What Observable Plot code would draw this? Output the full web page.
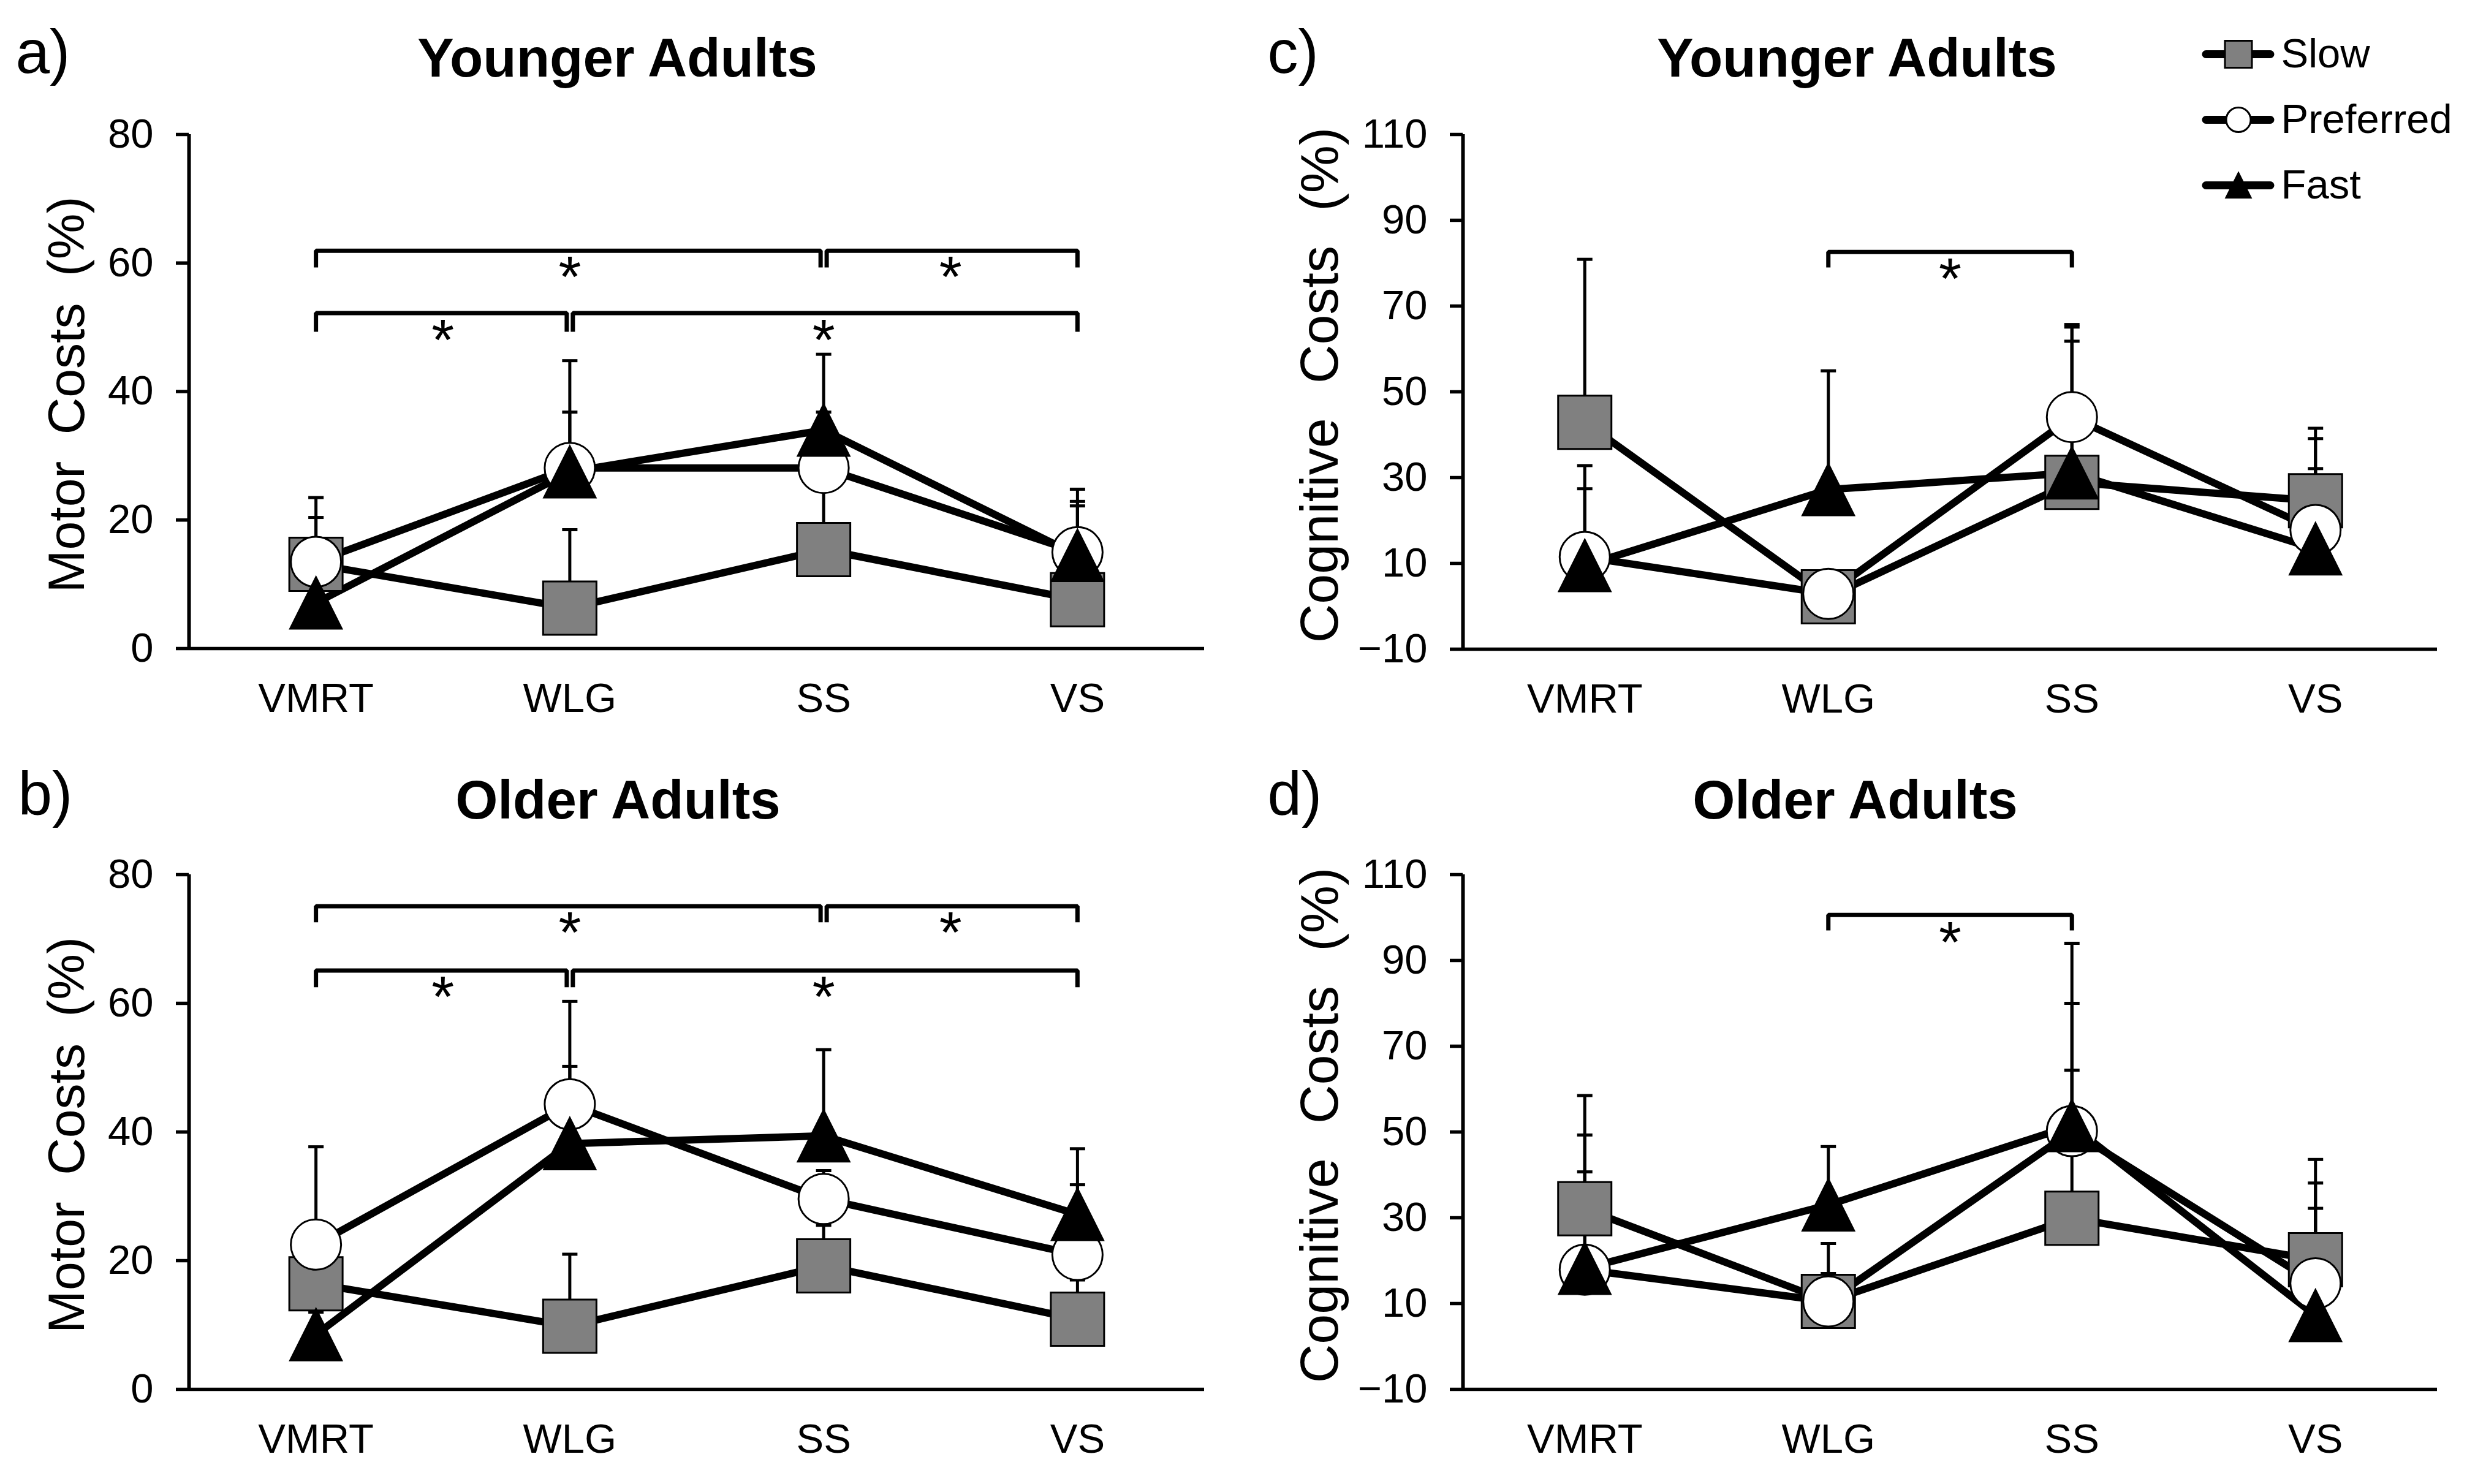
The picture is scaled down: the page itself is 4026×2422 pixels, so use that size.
<!DOCTYPE html>
<html><head><meta charset="utf-8">
<script src="https://cdn.jsdelivr.net/npm/d3@7"></script>
<script src="https://cdn.jsdelivr.net/npm/@observablehq/plot@0.6"></script>
<style>
html,body{margin:0;padding:0;background:#fff;}
#page{position:relative;width:4026px;height:2422px;overflow:hidden;background:#fff;}
.panel{position:absolute;}
</style></head><body><div id="page"></div>
<script>
// ---------- data ----------
const categories = ["VMRT", "WLG", "SS", "VS"];
const speeds = ["Slow", "Preferred", "Fast"];

// a) Younger adults – motor costs (%): means and upper error-bar ends
const youngMotorSlow = [13.1, 6.3, 15.4, 7.6];
const youngMotorPreferred = [13.5, 28.1, 28.1, 15.0];
const youngMotorFast = [7.1, 27.5, 34.0, 14.5];
const youngMotorSlowTop = [20.4, 18.5, 25.0, 22.2];
const youngMotorPreferredTop = [23.5, 36.8, 36.8, 24.8];
const youngMotorFastTop = [12.0, 44.8, 45.8, 22.9];

// b) Older adults – motor costs (%)
const oldMotorSlow = [16.4, 9.8, 19.2, 10.9];
const oldMotorPreferred = [22.5, 44.3, 29.6, 20.9];
const oldMotorFast = [8.5, 38.2, 39.4, 27.2];
const oldMotorSlowTop = [20.0, 21.0, 25.5, 17.0];
const oldMotorPreferredTop = [37.7, 60.3, 34.0, 31.8];
const oldMotorFastTop = [12.0, 50.2, 52.8, 37.4];

// c) Younger adults – cognitive costs (%)
const youngCogSlow = [42.9, 2.2, 28.9, 24.6];
const youngCogPreferred = [11.5, 2.9, 44.1, 17.8];
const youngCogFast = [9.5, 27.2, 31.1, 13.4];
const youngCogSlowTop = [80.9, 6.0, 61.8, 39.1];
const youngCogPreferredTop = [32.8, 7.0, 65.7, 41.5];
const youngCogFastTop = [27.4, 54.9, 65.1, 32.1];

// d) Older adults – cognitive costs (%)
const oldCogSlow = [32.1, 10.5, 29.9, 20.2];
const oldCogPreferred = [17.9, 10.5, 50.2, 14.7];
const oldCogFast = [18.2, 33.0, 51.5, 7.2];
const oldCogSlowTop = [40.7, 24.0, 64.4, 32.2];
const oldCogPreferredTop = [49.3, 17.0, 80.0, 38.1];
const oldCogFastTop = [58.5, 46.6, 94.0, 43.6];

// y tick labels
const motorTicks = [0, 20, 40, 60, 80];
const cogTicks = [-10, 10, 30, 50, 70, 90, 110];

// significance brackets (value units)
const motorBracketsYoung = [
  {from: "VMRT", to: "SS", level: 61.9, end: 59.3, star: 58.4},
  {from: "SS", to: "VS", level: 61.9, end: 59.3, star: 58.4},
  {from: "VMRT", to: "WLG", level: 52.2, end: 49.3, star: 48.6},
  {from: "WLG", to: "VS", level: 52.2, end: 49.3, star: 48.6}
];
const motorBracketsOld = [
  {from: "VMRT", to: "SS", level: 75.1, end: 72.6, star: 71.6},
  {from: "SS", to: "VS", level: 75.1, end: 72.6, star: 71.6},
  {from: "VMRT", to: "WLG", level: 65.1, end: 62.5, star: 61.6},
  {from: "WLG", to: "VS", level: 65.1, end: 62.5, star: 61.6}
];
const cogBracketsYoung = [{from: "WLG", to: "SS", level: 82.6, end: 79.0, star: 77.3}];
const cogBracketsOld = [{from: "WLG", to: "SS", level: 100.6, end: 97.0, star: 95.1}];

// ---------- helpers ----------
const FONT = "'Liberation Sans', Arial, sans-serif";
const squareSym = {draw(ctx, size) { const t = Math.sqrt(size / Math.PI); ctx.rect(-t, -t, 2 * t, 2 * t); }};
const triSym = {draw(ctx, size) { const t = Math.sqrt(size / Math.PI); ctx.moveTo(0, -t); ctx.lineTo(t, t); ctx.lineTo(-t, t); ctx.closePath(); }};
const capSym = {draw(ctx, size) { const t = Math.sqrt(size / Math.PI); ctx.moveTo(-t, 0); ctx.lineTo(t, 0); }};
const style = {
  Slow: {symbol: squareSym, fill: "#808080", r: 43.5},
  Preferred: {symbol: "circle", fill: "white", r: 41},
  Fast: {symbol: triSym, fill: "black", r: 42}
};

function rows(means, tops, speed) {
  return categories.map((c, i) => ({category: c, xi: i, speed, value: means[i], top: tops[i]}));
}

function bracketParts(brackets) {
  const pts = [], stars = [];
  brackets.forEach((b, k) => {
    let x1 = categories.indexOf(b.from), x2 = categories.indexOf(b.to);
    if (brackets.some(o => o !== b && o.level === b.level && o.to === b.from)) x1 += 0.012;
    if (brackets.some(o => o !== b && o.level === b.level && o.from === b.to)) x2 -= 0.012;
    pts.push({k, x: x1, y: b.end}, {k, x: x1, y: b.level}, {k, x: x2, y: b.level}, {k, x: x2, y: b.end});
    stars.push({x: (categories.indexOf(b.from) + categories.indexOf(b.to)) / 2, y: b.star});
  });
  return {pts, stars};
}

function panel(cfg) {
  const data = [
    ...rows(cfg.slow, cfg.slowTop, "Slow"),
    ...rows(cfg.pref, cfg.prefTop, "Preferred"),
    ...rows(cfg.fast, cfg.fastTop, "Fast")
  ];
  const {pts, stars} = bracketParts(cfg.brackets);
  const L = cfg.layout;
  const plot = Plot.plot({
    width: L.width, height: L.height,
    marginLeft: L.ml, marginRight: L.mr, marginTop: L.mt, marginBottom: L.mb,
    style: {background: "transparent", fontFamily: FONT, color: "black", overflow: "visible"},
    x: {domain: [-0.5, 3.5]},
    y: {domain: [cfg.ticks[0], cfg.ticks[cfg.ticks.length - 1]]},
    marks: [
      Plot.axisY({ticks: cfg.ticks, tickSize: 21, tickPadding: 37, fontSize: 67, strokeWidth: 5.5, label: null}),
      Plot.axisX({ticks: [0, 1, 2, 3], tickFormat: i => categories[i], tickSize: 0, tickPadding: 56, fontSize: 67, label: null}),
      Plot.ruleX([-0.5], {stroke: "black", strokeWidth: 6}),
      Plot.ruleY([cfg.ticks[0]], {stroke: "black", strokeWidth: 5.5}),
      // error bars
      Plot.ruleX(data, {x: "xi", y1: "value", y2: "top", stroke: "black", strokeWidth: 5}),
      Plot.dot(data, {x: "xi", y: "top", symbol: capSym, r: 12.5, stroke: "black", strokeWidth: 5, fill: "none"}),
      // series lines
      ...speeds.map(s => Plot.line(data.filter(d => d.speed === s), {x: "xi", y: "value", stroke: "black", strokeWidth: 12, strokeLinejoin: "round"})),
      // markers
      ...speeds.map(s => Plot.dot(data.filter(d => d.speed === s), {x: "xi", y: "value", symbol: style[s].symbol, r: style[s].r, fill: style[s].fill, stroke: "black", strokeWidth: 3})),
      // brackets
      Plot.line(pts, {x: "x", y: "y", z: "k", stroke: "black", strokeWidth: 7, strokeLinejoin: "miter", strokeLinecap: "butt"}),
      Plot.text(stars, {x: "x", y: "y", text: () => "*", fontSize: 95, dy: 8, fill: "black"}),
      // title, panel letter, y label
      Plot.text([cfg.title], {frameAnchor: "top-left", dx: L.titleDx, dy: L.titleDy, lineAnchor: "bottom", textAnchor: "middle", fontSize: 89, fontWeight: "bold", fill: "black"}),
      Plot.text([cfg.letter], {frameAnchor: "top-left", dx: L.letterDx, dy: L.letterDy, lineAnchor: "bottom", textAnchor: "start", fontSize: 100, fill: "black"}),
      Plot.text([cfg.ylabel], {frameAnchor: "left", dx: L.labelDx, dy: L.labelDy, rotate: -90, textAnchor: "middle", lineAnchor: "middle", fontSize: L.labelSize, fill: "black"})
    ]
  });
  d3.select(plot).selectAll("text").filter(function() { return this.textContent === cfg.ylabel; })
    .style("word-spacing", L.wordSpacing + "px");
  const div = document.createElement("div");
  div.className = "panel";
  div.style.left = L.left + "px"; div.style.top = L.top + "px";
  div.appendChild(plot);
  document.getElementById("page").appendChild(div);
}

panel({
  title: "Younger Adults", letter: "a)", ylabel: "Motor Costs (%)", ticks: motorTicks,
  slow: youngMotorSlow, pref: youngMotorPreferred, fast: youngMotorFast,
  slowTop: youngMotorSlowTop, prefTop: youngMotorPreferredTop, fastTop: youngMotorFastTop,
  brackets: motorBracketsYoung,
  layout: {left: 0, top: 0, width: 2090, height: 1211, ml: 308, mr: 125, mt: 219, mb: 153,
    titleDx: 699, titleDy: -95, letterDx: -283, letterDy: -101, labelDx: -198, labelDy: 5, labelSize: 84, wordSpacing: 20}
});
panel({
  title: "Older Adults", letter: "b)", ylabel: "Motor Costs (%)", ticks: motorTicks,
  slow: oldMotorSlow, pref: oldMotorPreferred, fast: oldMotorFast,
  slowTop: oldMotorSlowTop, prefTop: oldMotorPreferredTop, fastTop: oldMotorFastTop,
  brackets: motorBracketsOld,
  layout: {left: 0, top: 1211, width: 2090, height: 1211, ml: 308, mr: 125, mt: 216, mb: 155,
    titleDx: 700, titleDy: -92, letterDx: -279, letterDy: -98, labelDx: -198, labelDy: 5, labelSize: 84, wordSpacing: 20}
});
panel({
  title: "Younger Adults", letter: "c)", ylabel: "Cognitive Costs (%)", ticks: cogTicks,
  slow: youngCogSlow, pref: youngCogPreferred, fast: youngCogFast,
  slowTop: youngCogSlowTop, prefTop: youngCogPreferredTop, fastTop: youngCogFastTop,
  brackets: cogBracketsYoung,
  layout: {left: 2090, top: 0, width: 1936, height: 1211, ml: 297, mr: 49, mt: 219, mb: 152,
    titleDx: 643, titleDy: -95, letterDx: -319, letterDy: -101, labelDx: -233, labelDy: -11, labelSize: 88, wordSpacing: 32}
});
panel({
  title: "Older Adults", letter: "d)", ylabel: "Cognitive Costs (%)", ticks: cogTicks,
  slow: oldCogSlow, pref: oldCogPreferred, fast: oldCogFast,
  slowTop: oldCogSlowTop, prefTop: oldCogPreferredTop, fastTop: oldCogFastTop,
  brackets: cogBracketsOld,
  layout: {left: 2090, top: 1211, width: 1936, height: 1211, ml: 297, mr: 49, mt: 216, mb: 155,
    titleDx: 640, titleDy: -92, letterDx: -319, letterDy: -98, labelDx: -233, labelDy: -11, labelSize: 88, wordSpacing: 32}
});

// ---------- legend ----------
const legendStyle = {
  Slow: {symbol: squareSym, fill: "#808080", r: 22},
  Preferred: {symbol: "circle", fill: "white", r: 20},
  Fast: {symbol: triSym, fill: "black", r: 20}
};
const legend = Plot.plot({
  width: 436, height: 340, marginLeft: 16, marginRight: 315, marginTop: 87, marginBottom: 38,
  style: {background: "transparent", fontFamily: FONT, color: "black", overflow: "visible"},
  x: {domain: [0, 1], axis: null},
  y: {domain: speeds, type: "point", padding: 0, axis: null},
  marks: [
    Plot.ruleY(speeds, {y: d => d, x1: 0, x2: 1, stroke: "black", strokeWidth: 13, strokeLinecap: "round"}),
    ...speeds.map(s => Plot.dot([s], {x: 0.5, y: d => d, symbol: legendStyle[s].symbol, r: legendStyle[s].r, fill: legendStyle[s].fill, stroke: "black", strokeWidth: 3})),
    Plot.text(speeds, {x: 1, y: d => d, text: d => d, textAnchor: "start", dx: 17, fontSize: 67, fill: "black"})
  ]
});
const ldiv = document.createElement("div");
ldiv.className = "panel";
ldiv.style.left = "3584px"; ldiv.style.top = "0px";
ldiv.appendChild(legend);
document.getElementById("page").appendChild(ldiv);
</script>
</body></html>
